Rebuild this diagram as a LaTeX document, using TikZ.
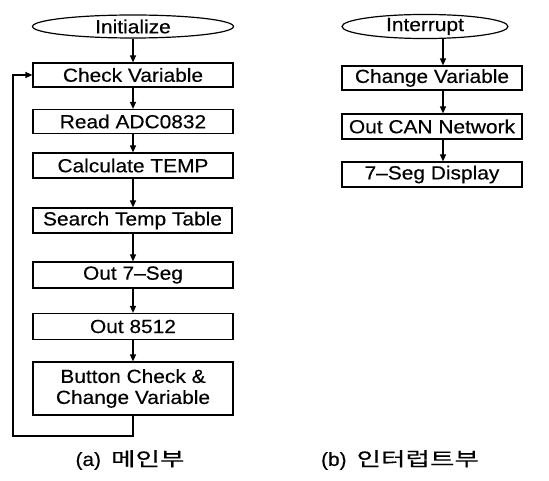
\documentclass[tikz,border=0pt]{standalone}
\usepackage{fontspec}
\setmainfont[FakeStretch=1.1,FakeBold=0.3]{Liberation Sans}
\newfontfamily\krfont[FakeStretch=1.4,FakeBold=0.3]{Noto Sans CJK KR}
\usetikzlibrary{shapes.geometric,arrows.meta}
\begin{document}
\begin{tikzpicture}[x=1pt,y=-1pt,
  every node/.style={font=\fontsize{19}{21}\selectfont, inner sep=0pt},
  proc/.style={draw, line width=1.2pt, minimum height=24pt, align=center},
  term/.style={draw, ellipse, line width=1.2pt, minimum height=23pt},
  flow/.style={line width=1.2pt, -{Triangle[length=7pt,width=6pt]}},
  captext/.style={font=\fontsize{19}{21}\selectfont}]
\useasboundingbox (0,0) rectangle (549,481);
% left column
\node[term, minimum width=201pt] (init) at (133,26.5) {Initialize};
\node[proc, minimum width=200pt] (chk) at (133,75) {Check Variable};
\node[proc, minimum width=200pt] (adc) at (133,121.5) {Read ADC0832};
\node[proc, minimum width=200pt, minimum height=25pt] (calc) at (133,165.5) {Calculate TEMP};
\node[proc, minimum width=199pt, minimum height=25pt] (srch) at (132.5,220.5) {Search Temp Table};
\node[proc, minimum width=200pt, minimum height=26pt] (seg) at (133,275) {Out 7–Seg};
\node[proc, minimum width=200pt, minimum height=26pt] (out) at (133,326.5) {Out 8512};
\node[proc, minimum width=200pt, minimum height=53pt] (btn) at (133,388.5) {Button Check \&\\Change Variable};
\draw[flow] (init) -- (chk);
\draw[flow] (chk) -- (adc);
\draw[flow] (adc) -- (calc);
\draw[flow] (calc) -- (srch.north -| calc.south);
\draw[flow] (srch.south -| calc.south) -- (seg);
\draw[flow] (seg) -- (out);
\draw[flow] (out) -- (btn);
\coordinate (lb) at (13,436);
\draw[flow] (btn.south) |- (lb) |- (chk.west);
% right column
\coordinate (ax) at (443,0);
\node[term, minimum width=166pt] (intr) at (425,26.5) {Interrupt};
\node[proc, minimum width=180pt] (cv) at (432,78) {Change Variable};
\node[proc, minimum width=180pt, minimum height=25pt] (can) at (432,126.5) {Out CAN Network};
\node[proc, minimum width=180pt, minimum height=25pt] (disp) at (432,174.5) {7–Seg Display};
\draw[flow] (intr.south -| ax) -- (cv.north -| ax);
\draw[flow] (cv.south -| ax) -- (can.north -| ax);
\draw[flow] (can.south -| ax) -- (disp.north -| ax);
% captions
\node[captext] (capa) at (130,460) {(a)\hspace{10pt}{\krfont 메인부}};
\node[captext] (capb) at (400,460) {(b)\hspace{10pt}{\krfont 인터럽트부}};
\end{tikzpicture}
\end{document}
